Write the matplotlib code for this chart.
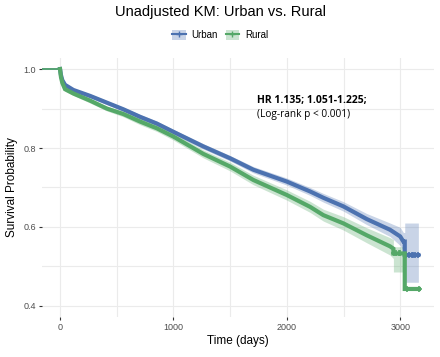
import numpy as np
import matplotlib.pyplot as plt
from matplotlib.patches import Patch
from matplotlib.lines import Line2D

# survival curves (time in days, survival probability)
urban_t = [-180, 0, 8, 20, 44, 118, 265, 412, 559, 706, 853, 1000, 1264, 1500,
           1705, 2000, 2205, 2322, 2500, 2705, 2910, 3000, 3028, 3040, 3040, 3160]
urban_s = [1.0, 1.0, 0.985, 0.972, 0.96, 0.947, 0.932, 0.915, 0.898, 0.879, 0.862,
           0.841, 0.804, 0.774, 0.745, 0.715, 0.69, 0.674, 0.652, 0.62, 0.593,
           0.576, 0.563, 0.563, 0.529, 0.529]
urban_lo = [1.0, 1.0, 0.983, 0.969, 0.956, 0.943, 0.927, 0.910, 0.893, 0.873, 0.856,
            0.835, 0.797, 0.767, 0.737, 0.706, 0.680, 0.663, 0.640, 0.606, 0.576,
            0.553, 0.540, 0.540, 0.46, 0.46]
urban_hi = [1.0, 1.0, 0.987, 0.975, 0.964, 0.951, 0.937, 0.920, 0.903, 0.885, 0.868,
            0.847, 0.811, 0.781, 0.753, 0.724, 0.700, 0.685, 0.664, 0.634, 0.610,
            0.599, 0.586, 0.586, 0.61, 0.61]

rural_t = [-180, 0, 8, 20, 44, 118, 265, 412, 559, 706, 853, 1000, 1264, 1500,
           1705, 2000, 2205, 2322, 2500, 2705, 2910, 2940, 2940, 3040, 3040, 3165]
rural_s = [1.0, 1.0, 0.98, 0.965, 0.949, 0.938, 0.92, 0.9, 0.886, 0.867, 0.85,
           0.829, 0.785, 0.753, 0.719, 0.681, 0.651, 0.63, 0.609, 0.579, 0.551,
           0.545, 0.533, 0.533, 0.443, 0.443]
rural_lo = [1.0, 1.0, 0.977, 0.961, 0.944, 0.933, 0.914, 0.894, 0.879, 0.859, 0.842,
            0.820, 0.775, 0.742, 0.707, 0.668, 0.637, 0.615, 0.592, 0.560, 0.529,
            0.520, 0.486, 0.486, 0.443, 0.443]
rural_hi = [1.0, 1.0, 0.983, 0.969, 0.954, 0.943, 0.926, 0.906, 0.893, 0.875, 0.858,
            0.838, 0.795, 0.764, 0.731, 0.694, 0.665, 0.645, 0.626, 0.598, 0.573,
            0.568, 0.55, 0.55, 0.443, 0.443]

# censor marks seen at the tails
urban_cens_t = [3050, 3075, 3100, 3115, 3130, 3160]
urban_cens_s = [0.529] * 6
rural_cens_t = [2945, 2965, 2985, 3000, 3060, 3165]
rural_cens_s = [0.533, 0.533, 0.533, 0.533, 0.443, 0.443]

blue = '#4C72B0'
green = '#55A868'

fig = plt.figure(figsize=(4.4, 3.57), dpi=100)
plt.rcParams['font.family'] = ['Liberation Sans', 'DejaVu Sans']
ax = fig.add_axes([42 / 440, 1 - 317 / 357, (434 - 42) / 440, (317 - 58) / 357])

for t, s, lo, hi, cens_t, cens_s, col in [
        (urban_t, urban_s, urban_lo, urban_hi, urban_cens_t, urban_cens_s, blue),
        (rural_t, rural_s, rural_lo, rural_hi, rural_cens_t, rural_cens_s, green)]:
    t = np.array(t)
    s = np.array(s)
    ax.fill_between(t, lo, hi, color=col, alpha=0.3, lw=0)
    ax.plot(t[:2], s[:2], color=col, lw=1.2)
    ax.plot(t[1:], s[1:], color=col, lw=3.0, solid_joinstyle='miter')
    ax.plot(cens_t, cens_s, ls='none', marker='+', ms=5, mew=1.2, color=col)

ax.set_xlim(-159, 3298)
ax.set_ylim(0.372, 1.028)
ax.set_xticks([0, 1000, 2000, 3000])
ax.set_xticks([500, 1500, 2500], minor=True)
ax.set_yticks([0.4, 0.6, 0.8, 1.0])
ax.set_yticks([0.5, 0.7, 0.9], minor=True)
ax.grid(True, which='both', color='#ebebeb', lw=0.8)
ax.set_axisbelow(True)
for sp in ax.spines.values():
    sp.set_visible(False)
ax.tick_params(which='major', length=2.5, width=0.8, color='#333333',
               labelsize=6.5, labelcolor='#4d4d4d', pad=2)
ax.tick_params(which='minor', length=0)

ax.set_xlabel('Time (days)', fontsize=8.5, labelpad=2)
ax.set_ylabel('Survival Probability', fontsize=8.5, labelpad=4)

fig.text(0.5, 1 - 12 / 357, 'Unadjusted KM: Urban vs. Rural', ha='center',
         va='center', fontsize=10.5)

handles = [(Patch(facecolor=blue, alpha=0.3, lw=0),
            Line2D([], [], color=blue, lw=1.5, marker='+', ms=5)),
           (Patch(facecolor=green, alpha=0.3, lw=0),
            Line2D([], [], color=green, lw=1.5, marker='+', ms=5))]
fig.legend(handles, ['Urban', 'Rural'], loc='center', ncol=2,
           bbox_to_anchor=(0.5, 1 - 35 / 357), frameon=False, fontsize=7,
           handlelength=1.4, handleheight=1.3, columnspacing=0.8,
           handletextpad=0.6)

ax.text(257 / 440, 1 - 100 / 357, 'HR 1.135; 1.051-1.225;', transform=fig.transFigure,
        fontsize=7.5, fontweight='bold', family=['Open Sans', 'DejaVu Sans'],
        va='center', ha='left')
ax.text(257 / 440, 1 - 115 / 357, '(Log-rank p < 0.001)', transform=fig.transFigure,
        fontsize=7.3, family=['Open Sans', 'DejaVu Sans'], va='center', ha='left')

fig.savefig('out.png', dpi=100)
